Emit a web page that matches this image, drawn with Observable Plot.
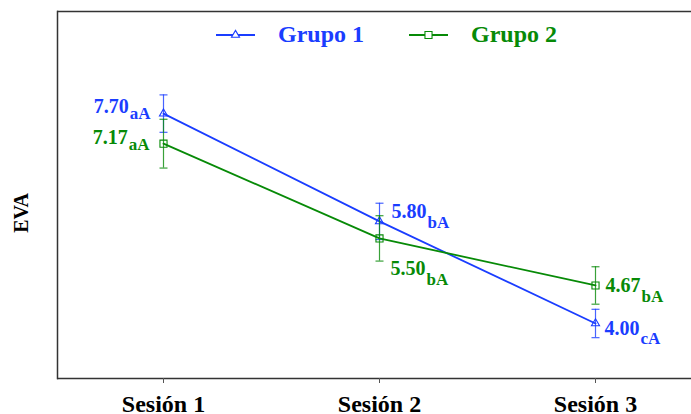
<!DOCTYPE html>
<html>
<head>
<meta charset="utf-8">
<script src="https://cdn.jsdelivr.net/npm/d3@7"></script>
<script src="https://cdn.jsdelivr.net/npm/@observablehq/plot@0.6"></script>
<style>
  html, body { margin: 0; padding: 0; background: #fff; }
  svg { font-family: "Liberation Serif", "Times New Roman", serif; }
</style>
</head>
<body>
<div id="chart"></div>
<script>
const sessions = ["Sesión 1", "Sesión 2", "Sesión 3"];
const groups = ["Grupo 1", "Grupo 2"];
const grupo1 = [7.70, 5.80, 4.00];
const grupo2 = [7.17, 5.50, 4.67];
const err1 = [0.33, 0.32, 0.25];
const err2 = [0.43, 0.40, 0.33];
const letras1 = ["aA", "bA", "cA"];
const letras2 = ["aA", "bA", "bA"];
const colors = ["#1a3dff", "#078a07"];
const symbols = ["triangle", "square"];

// label placement (anchor, dx, dy, subscript shift) per group/session
const labelPos1 = [["end", -13, -1, 6.5], ["start", 12, -3, 9.5], ["start", 9, 12, 9]];
const labelPos2 = [["end", -14, 0, 6.5], ["start", 11, 37, 9.5], ["start", 10, 7, 9.5]];

const data = [];
[grupo1, grupo2].forEach((vals, g) => {
  const errs = g === 0 ? err1 : err2;
  const subs = g === 0 ? letras1 : letras2;
  const pos = g === 0 ? labelPos1 : labelPos2;
  vals.forEach((v, i) => data.push({
    session: sessions[i], group: groups[g], value: v,
    lo: v - errs[i], hi: v + errs[i], sub: subs[i], pos: pos[i], color: colors[g]
  }));
});

const capSymbol = {
  draw(context, size) {
    const w = Math.sqrt(size / Math.PI);
    context.moveTo(-w, 0);
    context.lineTo(w, 0);
  }
};

const marks = [
  Plot.ruleY([9.5], {stroke: "#333", strokeWidth: 1.5}),
  Plot.ruleY([3.03], {stroke: "#333", strokeWidth: 1.5}),
  Plot.frame({anchor: "left", stroke: "#333", strokeWidth: 1.5}),
  Plot.axisX({tickSize: 5, tickPadding: 11, stroke: "#555", fontSize: 24, fontWeight: "bold", fill: "#000", label: null}),
];

groups.forEach((g, gi) => {
  const d = data.filter(r => r.group === g);
  marks.push(
    Plot.ruleX(d, {x: "session", y1: "lo", y2: "hi", stroke: colors[gi], strokeWidth: 1.2, strokeOpacity: 0.8}),
    Plot.dot(d, {x: "session", y: "lo", symbol: capSymbol, r: 4, stroke: colors[gi], strokeWidth: 1.2, strokeOpacity: 0.8}),
    Plot.dot(d, {x: "session", y: "hi", symbol: capSymbol, r: 4, stroke: colors[gi], strokeWidth: 1.2, strokeOpacity: 0.8}),
    Plot.line(d, {x: "session", y: "value", stroke: colors[gi], strokeWidth: 1.8}),
    Plot.dot(d, {x: "session", y: "value", symbol: symbols[gi], r: gi === 0 ? 3 : 4, stroke: colors[gi], fill: "none", strokeWidth: 1.1})
  );
  d.forEach(r => {
    marks.push(Plot.text([r], {
      x: "session", y: "value",
      text: q => q.value.toFixed(2) + "|" + q.sub + "|" + q.pos[3],
      textAnchor: r.pos[0], dx: r.pos[1], dy: r.pos[2],
      lineAnchor: "bottom", fill: colors[gi], fontSize: 20, fontWeight: "bold"
    }));
  });
});

const chart = Plot.plot({
  width: 691, height: 414,
  marginLeft: 57, marginRight: 0, marginTop: 11, marginBottom: 36,
  style: {fontFamily: "Liberation Serif", background: "#fff", overflow: "visible"},
  x: {type: "point", domain: sessions, range: [163, 595], padding: 0, axis: null, label: null},
  y: {domain: [3.03, 9.5], axis: null, label: null},
  marks
});

// turn "value|sub|shift" into value + subscript
chart.querySelectorAll("text").forEach(t => {
  const s = t.textContent;
  if (s.split("|").length === 3) {
    const [main, sub, shift] = s.split("|");
    t.textContent = "";
    const a = document.createElementNS("http://www.w3.org/2000/svg", "tspan");
    a.textContent = main;
    const b = document.createElementNS("http://www.w3.org/2000/svg", "tspan");
    b.textContent = sub;
    b.setAttribute("font-size", 17);
    b.setAttribute("dy", shift);
    b.setAttribute("dx", 1);
    t.appendChild(a); t.appendChild(b);
  }
});

// legend inside the frame and y-axis title
const svg = d3.select(chart);
const legend = [
  {label: groups[0], x0: 216, x1: 255, tx: 278, color: colors[0], sym: d3.symbolTriangle, size: 28},
  {label: groups[1], x0: 409, x1: 448, tx: 471, color: colors[1], sym: d3.symbolSquare, size: 50}
];
legend.forEach(l => {
  const g = svg.append("g");
  g.append("line").attr("x1", l.x0).attr("x2", l.x1).attr("y1", 35).attr("y2", 35)
    .attr("stroke", l.color).attr("stroke-width", 1.8);
  g.append("path").attr("d", d3.symbol(l.sym, l.size)()).attr("transform", `translate(${(l.x0 + l.x1) / 2},35)`)
    .attr("fill", "#fff").attr("stroke", l.color).attr("stroke-width", 1.1);
  g.append("text").attr("x", l.tx).attr("y", 42).attr("fill", l.color).attr("text-anchor", "start")
    .attr("font-size", 24).attr("font-weight", "bold").text(l.label);
});
svg.append("text").attr("transform", "translate(28,213) rotate(-90)")
  .attr("text-anchor", "middle").attr("font-size", 20).attr("font-weight", "bold")
  .attr("fill", "#000").text("EVA");

document.getElementById("chart").appendChild(chart);
</script>
</body>
</html>
